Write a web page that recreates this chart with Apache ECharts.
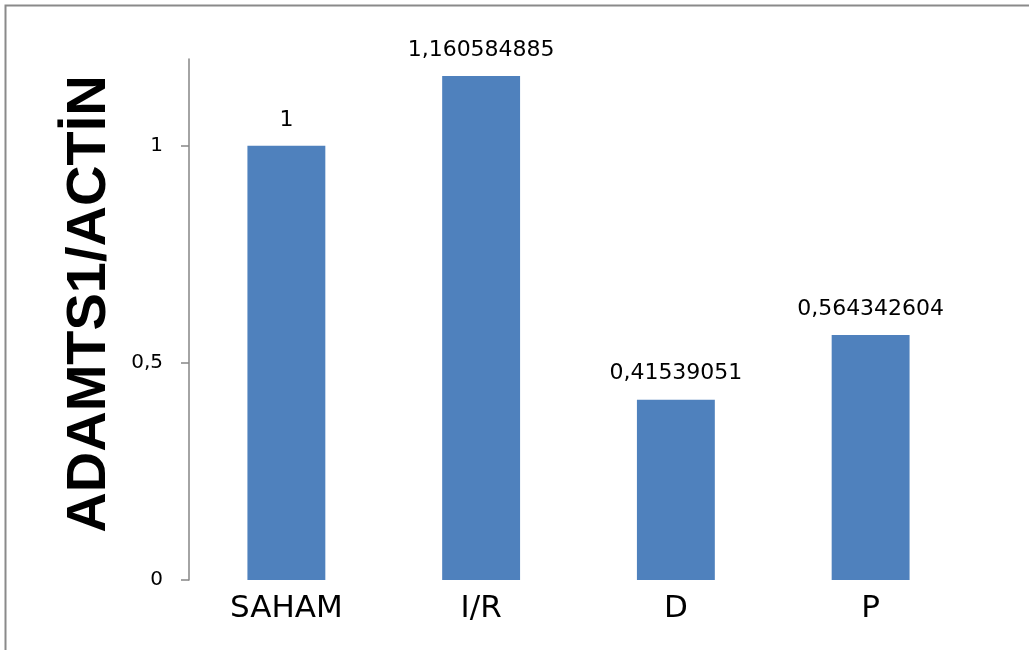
<!DOCTYPE html>
<html>
<head>
<meta charset="utf-8">
<script src="https://cdn.jsdelivr.net/npm/echarts@6/dist/echarts.min.js"></script>
<style>
  html, body { margin: 0; padding: 0; background: #fff; }
  #chart { width: 1029px; height: 650px; }
</style>
</head>
<body>
<div id="chart"></div>
<script>
// Groups on the x axis
const categories = ['SAHAM', 'I/R', 'D', 'P'];
// ADAMTS1 expression normalised to actin
const ratios = [1, 1.160584885, 0.41539051, 0.564342604];
// Values shown as y-axis ticks
const yTicks = [0, 0.5, 1];

// Decimal comma formatting
const fmt = v => String(v).replace('.', ',');

const chart = echarts.init(document.getElementById('chart'));
chart.setOption({
  animation: false,
  backgroundColor: '#ffffff',
  grid: { left: 189, right: 61, top: 59, bottom: 70, containLabel: false },
  xAxis: {
    type: 'category',
    data: categories,
    axisLine: { show: false },
    axisTick: { show: false },
    axisLabel: {
      margin: 13,
      fontFamily: 'DejaVu Sans',
      fontSize: 31,
      color: '#000'
    }
  },
  yAxis: {
    type: 'value',
    min: 0,
    max: 1.2,
    interval: 0.5,
    splitLine: { show: false },
    axisLine: { show: true, lineStyle: { color: '#868686', width: 1.5 } },
    axisTick: { show: true, length: 8, customValues: yTicks, lineStyle: { color: '#868686', width: 1.5 } },
    axisLabel: {
      customValues: yTicks,
      margin: 26,
      fontFamily: 'DejaVu Sans',
      fontSize: 20,
      color: '#000',
      formatter: fmt
    }
  },
  series: [{
    type: 'bar',
    data: ratios,
    barWidth: '40%',
    itemStyle: { color: '#4F81BD' },
    label: {
      show: true,
      position: 'top',
      distance: 15,
      fontFamily: 'DejaVu Sans',
      fontSize: 22,
      color: '#000',
      formatter: p => fmt(p.value)
    }
  }],
  graphic: [
    {
      type: 'rect',
      silent: true,
      shape: { x: 5.5, y: 5.5, width: 1100, height: 800 },
      style: { fill: 'none', stroke: '#8a8a8a', lineWidth: 2 }
    },
    {
      type: 'text',
      silent: true,
      x: 90,
      y: 304,
      rotation: Math.PI / 2,
      style: {
        text: 'ADAMTS1/ACTİN',
        fontFamily: 'Liberation Sans',
        fontWeight: 'bold',
        fontSize: 56,
        fill: '#000',
        align: 'center',
        verticalAlign: 'middle'
      }
    }
  ]
});
</script>
</body>
</html>
